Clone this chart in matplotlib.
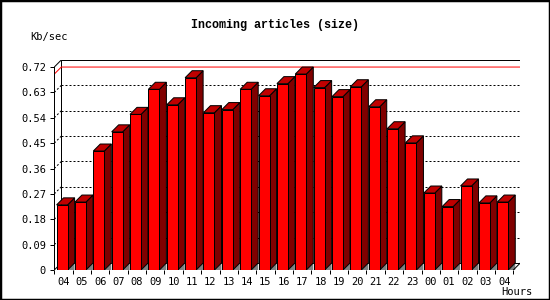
"""Incoming articles (size) per hour, drawn as a pseudo-3D bar chart."""

import matplotlib

matplotlib.use("Agg")

import matplotlib.pyplot as plt
import numpy as np
from matplotlib.patches import Polygon, Rectangle


HOURS = [
    "04", "05", "06", "07", "08", "09", "10", "11", "12", "13", "14", "15", "16",
    "17", "18", "19", "20", "21", "22", "23", "00", "01", "02", "03", "04",
]
KB_PER_SEC = [
    0.231, 0.241, 0.422, 0.490, 0.552, 0.641, 0.586, 0.682, 0.558, 0.569, 0.641,
    0.618, 0.661, 0.695, 0.647, 0.615, 0.650, 0.579, 0.501, 0.451, 0.273, 0.225,
    0.298, 0.238, 0.241,
]
Y_TICKS = [0, 0.09, 0.18, 0.27, 0.36, 0.45, 0.54, 0.63, 0.72]
Y_TICK_LABELS = ["0", "0.09", "0.18", "0.27", "0.36", "0.45", "0.54", "0.63", "0.72"]

TITLE = "Incoming articles (size)"
Y_LABEL = "Kb/sec"
X_LABEL = "Hours"

FRONT = "#FF0000"
SIDE = "#800000"
TOP = "#C00000"
FLOOR = "#808080"
LW = 0.72

# depth of the fake 3D effect in data units (7 px at this size)
DX = 0.38
DY = 0.0249
BAR_OFFSET = 0.125
BAR_WIDTH = 0.6


def draw_frame(ax, n, y_max):
    """Back wall, left wall edge, floor edges and the front axis lines."""
    kw = dict(color="black", lw=LW, solid_capstyle="butt", zorder=1)
    ax.plot([DX, DX, n + DX, n + DX], [DY, y_max + DY, y_max + DY, DY], **kw)
    ax.plot([0, DX], [y_max, y_max + DY], **kw)
    ax.plot([0, DX], [0, DY], **kw)
    ax.plot([DX, n + DX], [DY, DY], **kw)
    ax.plot([n, n + DX], [0, DY], color="black", lw=LW, zorder=5)
    ax.plot([0, 0], [0, y_max], color="black", lw=LW, zorder=5)
    ax.plot([0, n], [0, 0], color="black", lw=LW, zorder=5)

    for v in Y_TICKS[1:-1]:
        ax.plot([DX, n + DX], [v + DY, v + DY], color="black", lw=LW,
                dashes=(2, 2), zorder=1)
        ax.plot([0, DX], [v, v + DY], color="black", lw=LW,
                dashes=(2, 2), zorder=1)

    peak = max(KB_PER_SEC)
    ax.plot([0, DX, n + DX], [peak, peak + DY, peak + DY], color=FRONT, lw=LW, zorder=1.5)


def draw_bars(ax, values):
    """Front face, side face, top face and the floor shadow for every bar."""
    x0 = np.arange(len(values)) + BAR_OFFSET
    ax.bar(x0, values, width=BAR_WIDTH, align="edge", color=FRONT,
           edgecolor="black", linewidth=LW, zorder=3)
    for i, (left, v) in enumerate(zip(x0, values)):
        right = left + BAR_WIDTH
        z = 2 + i * 0.01
        ax.add_patch(Polygon([(right, 0), (right + DX, DY), (right + DX, 0)],
                             closed=True, facecolor=FLOOR, edgecolor="none", zorder=z))
        ax.add_patch(Polygon([(right, 0), (right + DX, DY), (right + DX, v + DY), (right, v)],
                             closed=True, facecolor=SIDE, edgecolor="black", lw=LW, zorder=z))
        ax.add_patch(Polygon([(left, v), (left + DX, v + DY), (right + DX, v + DY), (right, v)],
                             closed=True, facecolor=TOP, edgecolor="black", lw=LW, zorder=z))


def main():
    n = len(HOURS)
    y_max = Y_TICKS[-1]

    fig = plt.figure(figsize=(5.5, 3.0), dpi=100)
    fig.patch.set_facecolor("white")
    ax = fig.add_axes([54.3 / 550, 30 / 300, 466 / 550, 210 / 300])
    ax.set_xlim(0, n + DX)
    ax.set_ylim(0, y_max + DY)
    for spine in ax.spines.values():
        spine.set_visible(False)
    ax.patch.set_visible(False)

    draw_frame(ax, n, y_max)
    draw_bars(ax, KB_PER_SEC)

    mono = "DejaVu Sans Mono"
    ax.set_yticks(Y_TICKS)
    ax.set_yticklabels(Y_TICK_LABELS, family=mono, fontsize=7.5)
    ax.set_xticks(np.arange(n + 1))
    ax.set_xticklabels([])
    ax.set_xticks(np.arange(n) + 0.5, minor=True)
    ax.set_xticklabels(HOURS, minor=True, family=mono, fontsize=7.5)
    ax.tick_params(axis="y", direction="out", length=3, width=LW, pad=3)
    ax.tick_params(axis="x", which="major", direction="out", length=3, width=LW)
    ax.tick_params(axis="x", which="minor", length=0, pad=5)

    fig.text(0.5, 1 - 25 / 300, TITLE, ha="center", va="center",
             family="Liberation Mono", fontweight="bold", fontsize=8.5)
    fig.text(30 / 550, 1 - 37 / 300, Y_LABEL, ha="left", va="center",
             family=mono, fontsize=7.5)
    fig.text(533 / 550, 1 - 292 / 300, X_LABEL, ha="right", va="center",
             family=mono, fontsize=7.5)

    fig.patches.append(Rectangle((0, 0), 1, 1, transform=fig.transFigure,
                                 fill=False, edgecolor="black", linewidth=2.5))
    fig.savefig("out.png", dpi=100)


if __name__ == "__main__":
    main()
